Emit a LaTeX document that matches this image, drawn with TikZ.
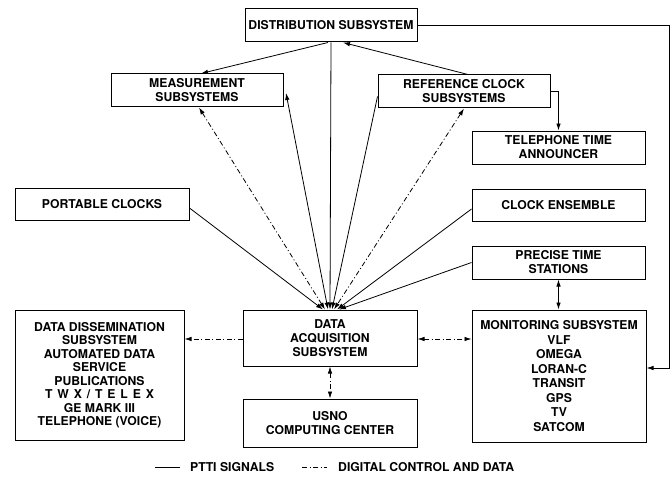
\documentclass[tikz,border=0pt]{standalone}
\usepackage{fontspec}
\setmainfont{TeX Gyre Heros}
\usetikzlibrary{arrows.meta}
\newcommand{\lsp}{\hspace{0.4em}}
\begin{document}
\begin{tikzpicture}[x=1pt,y=-1pt,
  box/.style={draw,line width=1pt,inner sep=0pt,align=center,
    font=\fontsize{12.2}{14}\selectfont\bfseries},
  ln/.style={line width=0.8pt},
  dd/.style={line width=0.8pt,dash pattern=on 5pt off 2.5pt on 1pt off 2.5pt},
  tip/.style={-{Latex[length=7pt,width=4.5pt]}},
  tips/.style={{Latex[length=7pt,width=4.5pt]}-{Latex[length=7pt,width=4.5pt]}}]
\useasboundingbox (0,0) rectangle (671,476);
% boxes
\node[box,minimum width=172pt,minimum height=33pt] (dist) at (331,25.5) {DISTRIBUTION SUBSYSTEM};
\node[box,minimum width=172pt,minimum height=33pt] (meas) at (197,90.5) {MEASUREMENT\\SUBSYSTEMS};
\node[box,minimum width=172pt,minimum height=33pt] (ref) at (464,91.5) {REFERENCE CLOCK\\SUBSYSTEMS};
\node[box,minimum width=173pt,minimum height=33pt] (tel) at (558.5,147.5) {TELEPHONE TIME\\ANNOUNCER};
\node[box,minimum width=174pt,minimum height=32pt] (port) at (102,204) {PORTABLE CLOCKS};
\node[box,minimum width=173pt,minimum height=32pt] (ens) at (558.5,205) {CLOCK ENSEMBLE};
\node[box,minimum width=173pt,minimum height=33pt] (pts) at (558.5,262.5) {PRECISE TIME\\STATIONS};
\node[box,minimum width=169pt,minimum height=130pt,font=\fontsize{12.2}{13.5}\selectfont\bfseries] (diss) at (99.5,375)
  {DATA DISSEMINATION\\SUBSYSTEM\\AUTOMATED DATA\\SERVICE\\PUBLICATIONS\\T\lsp W\lsp X\lsp /\lsp T\lsp E\lsp L\lsp E\lsp X\\GE MARK III\\TELEPHONE (VOICE)};
\node[box,minimum width=174pt,minimum height=56pt] (acq) at (330,338) {DATA\\ACQUISITION\\SUBSYSTEM};
\node[box,minimum width=174pt,minimum height=48pt] (usno) at (330,423) {USNO\\COMPUTING CENTER};
\node[box,minimum width=174pt,minimum height=132pt,font=\fontsize{12.2}{14.5}\selectfont\bfseries] (mon) at (559,376)
  {MONITORING SUBSYSTEM\\VLF\\OMEGA\\LORAN-C\\TRANSIT\\GPS\\TV\\SATCOM};
% helper coordinates
\coordinate (mtip) at (286,93);
\coordinate (r1) at (669,25);
\coordinate (r2) at (669,368);
% distribution links
\draw[ln,tip] ([xshift=-3pt]dist.south) -- ([xshift=4pt]meas.north);
\draw[ln,tip] ([xshift=4pt]ref.north) -- ([xshift=12pt]dist.south);
\draw[ln,tip] (dist.south) -- (acq.north);
\draw[ln,tip] (dist.east |- r1) -- (r1) -- (r2) -- (r2 -| mon.east);
\draw[ln,tip] (ref.east) -| (tel.north);
% converging into acquisition
\draw[ln,tip] ([yshift=-4pt]port.east) -- ([xshift=-7pt]acq.north);
\draw[dd,tips] ([xshift=2pt]meas.south) -- ([xshift=-5pt]acq.north);
\draw[ln,tips] (mtip) -- ([xshift=-2pt]acq.north);
\draw[ln,tip] ([yshift=-5pt]ref.west) -- ([xshift=2pt]acq.north);
\draw[dd,tips] (ref.south) -- ([xshift=4pt]acq.north);
\draw[ln,tip] ([yshift=-4pt]ens.west) -- ([xshift=7pt]acq.north);
\draw[ln,tip] (pts.west) -- ([xshift=9pt]acq.north);
% lower links
\draw[ln,tips] (pts.south) -- (pts.south |- mon.north);
\draw[dd,tips] (acq.south) -- (usno.north);
\draw[dd,tips] ([yshift=-1pt]acq.east) -- ([yshift=-1pt]acq.east -| mon.west);
\draw[dd,tip] ([yshift=-1pt]acq.west) -- ([yshift=-1pt]acq.west -| diss.east);
% legend
\coordinate (l1) at (155,467);
\coordinate (l2) at (180,467);
\coordinate (l3) at (302,467);
\coordinate (l4) at (327,467);
\draw[ln] (l1) -- (l2);
\node[anchor=west,inner sep=0pt,font=\fontsize{12.2}{14}\selectfont\bfseries] (lt1) at (190,467) {PTTI SIGNALS};
\draw[dd] (l3) -- (l4);
\node[anchor=west,inner sep=0pt,font=\fontsize{12.2}{14}\selectfont\bfseries] (lt2) at (338,467) {DIGITAL CONTROL AND DATA};
\end{tikzpicture}
\end{document}
